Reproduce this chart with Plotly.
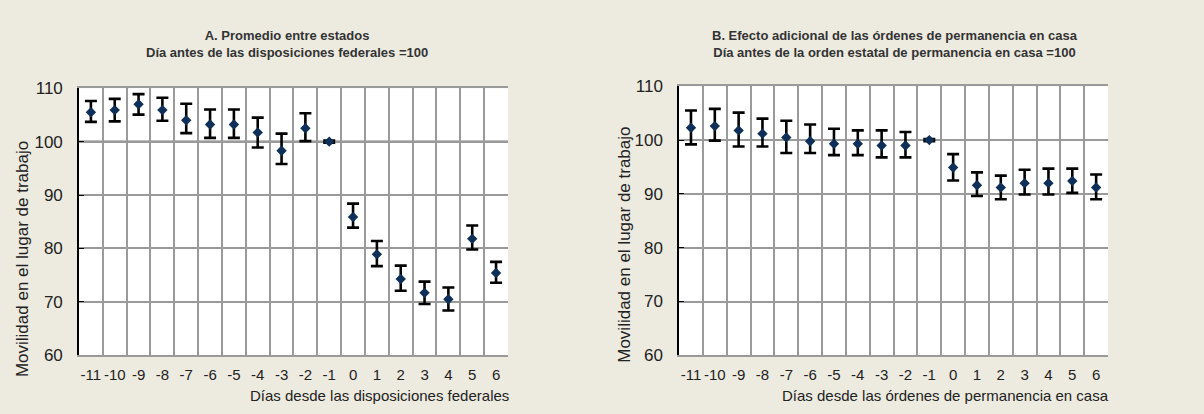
import plotly.graph_objects as go

days = list(range(-11, 7))

# Panel A: Promedio entre estados
a_val = [105.5, 105.9, 107.0, 105.9, 104.0, 103.2, 103.2, 101.7, 98.3, 102.5, 100.0,
         85.9, 78.9, 74.3, 71.7, 70.5, 81.8, 75.4]
a_hi = [107.6, 108.0, 108.9, 108.2, 107.1, 106.0, 106.0, 104.5, 101.5, 105.3, 100.2,
        88.4, 81.4, 76.8, 73.8, 72.7, 84.3, 77.5]
a_lo = [103.7, 103.8, 105.05, 103.9, 101.6, 100.7, 100.7, 98.9, 95.8, 100.1, 99.8,
        83.9, 76.7, 72.1, 69.6, 68.4, 79.8, 73.6]

# Panel B: Efecto adicional de las órdenes de permanencia en casa
b_val = [102.3, 102.6, 101.8, 101.2, 100.5, 99.8, 99.3, 99.3, 99.0, 99.0, 100.0,
         94.9, 91.6, 91.2, 92.0, 92.0, 92.4, 91.2]
b_hi = [105.5, 105.8, 105.1, 104.0, 103.6, 102.9, 102.1, 101.8, 101.8, 101.5, 100.2,
        97.4, 94.0, 93.4, 94.5, 94.7, 94.7, 93.6]
b_lo = [99.2, 99.9, 98.8, 98.8, 97.6, 97.6, 97.2, 97.2, 96.8, 96.8, 99.8,
        92.5, 89.6, 89.0, 89.9, 89.9, 90.2, 89.0]

y_ticks = [60, 70, 80, 90, 100, 110]
boundaries = [d - 0.5 for d in days] + [days[-1] + 0.5]

title_a = ["A. Promedio entre estados", "Día antes de las disposiciones federales =100"]
title_b = ["B. Efecto adicional de las órdenes de permanencia en casa",
           "Día antes de la orden estatal de permanencia en casa =100"]
xtitle_a = "Días desde las disposiciones federales"
xtitle_b = "Días desde las órdenes de permanencia en casa"
ytitle = "Movilidad en el lugar de trabajo"

BG = "#EDEBE0"
NAVY = "#0E2F57"
GRID = "#9A9A9A"
FONT = "Liberation Sans, Arial"

fig = go.Figure()

def add_panel(val, hi, lo, xa, ya):
    fig.add_trace(go.Scatter(
        x=days, y=val, mode="markers", xaxis=xa, yaxis=ya,
        marker=dict(symbol="diamond", size=8, color=NAVY),
        error_y=dict(type="data", symmetric=False,
                     array=[h - v for h, v in zip(hi, val)],
                     arrayminus=[v - l for v, l in zip(val, lo)],
                     color="black", thickness=2.6, width=6),
        showlegend=False, cliponaxis=False))

add_panel(a_val, a_hi, a_lo, "x", "y")
add_panel(b_val, b_hi, b_lo, "x2", "y2")

xcommon = dict(
    range=[-11.5, 6.5], tickmode="array", tickvals=days,
    ticktext=[str(d) for d in days], showgrid=False, tickangle=0,
    showline=True, linecolor=GRID, linewidth=1.5, mirror=True,
    ticks="", ticklabelstandoff=5,
    tickfont=dict(family=FONT, size=15, color="#222"),
    minor=dict(tickvals=boundaries, showgrid=True, gridcolor=GRID, gridwidth=1.5, ticks=""),
    zeroline=False, fixedrange=True,
)
ycommon = dict(
    range=[60, 110], tickmode="array", tickvals=y_ticks,
    showgrid=True, gridcolor=GRID, gridwidth=1.5,
    showline=True, linecolor="black", linewidth=1.5,
    ticks="inside", ticklen=5, tickcolor="black", ticklabelstandoff=11,
    tickfont=dict(family=FONT, size=17, color="#222"),
    zeroline=False, fixedrange=True,
)

fig.update_layout(
    width=1204, height=414, margin=dict(l=0, r=0, t=0, b=0),
    paper_bgcolor=BG, plot_bgcolor="white",
    xaxis=dict(domain=[0.0656, 0.4219], anchor="y", **xcommon),
    yaxis=dict(domain=[0.1232, 0.7995], anchor="x", **ycommon),
    xaxis2=dict(domain=[0.5640, 0.9203], anchor="y2", **xcommon),
    yaxis2=dict(domain=[0.1232, 0.8043], anchor="x2", **ycommon),
)

# baseline at 100
for xr, yr in [("x domain", "y"), ("x2 domain", "y2")]:
    fig.add_shape(type="line", xref=xr, yref=yr, x0=0, x1=1, y0=100, y1=100,
                  line=dict(color="black", width=2), layer="below")

ann = []
for (xr, t, cx) in [("x domain", title_a, 0.485), ("x2 domain", title_b, 0.503)]:
    ann.append(dict(xref=xr, yref="paper", x=cx, y=1 - 37 / 414, xanchor="center", yanchor="middle",
                    text="<b>" + t[0] + "<br>" + t[1] + "</b>", showarrow=False,
                    font=dict(family="Liberation Sans, Arial", size=13, color="#333")))
for xr, t in [("x domain", xtitle_a), ("x2 domain", xtitle_b)]:
    ann.append(dict(xref=xr, yref="paper", x=1.004, y=0, xanchor="right", yanchor="bottom",
                    borderpad=0, yshift=-1,
                    text=t, showarrow=False, font=dict(family=FONT, size=15, color="#222")))
ann.append(dict(xref="x domain", yref="y domain", x=-0.133, y=0.36, xanchor="center", yanchor="middle",
                text=ytitle, textangle=-90, showarrow=False, font=dict(family=FONT, size=17, color="#222")))
ann.append(dict(xref="x2 domain", yref="y2 domain", x=-0.126, y=0.411, xanchor="center", yanchor="middle",
                text=ytitle, textangle=-90, showarrow=False, font=dict(family=FONT, size=17, color="#222")))
fig.update_layout(annotations=ann)

fig.write_html("out.html")
